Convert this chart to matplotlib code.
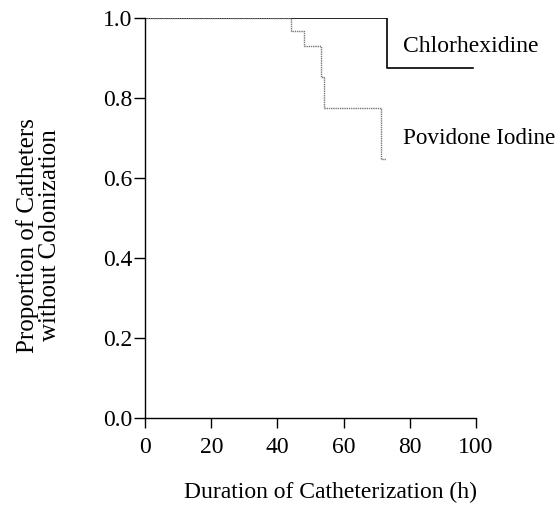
import matplotlib
matplotlib.use("Agg")
import matplotlib.pyplot as plt

# Kaplan-Meier style curves
chlor_time = [0, 73.2, 99.2]
chlor_prop = [1.0, 0.874, 0.874]
povid_time = [0, 44.1, 48.0, 53.2, 54.2, 71.2, 72.8]
povid_prop = [1.0, 0.968, 0.93, 0.852, 0.774, 0.647, 0.647]

x_ticks = [0, 20, 40, 60, 80, 100]
y_ticks = [0.0, 0.2, 0.4, 0.6, 0.8, 1.0]

plt.rcParams['font.family'] = ['Liberation Serif', 'DejaVu Serif']

fig = plt.figure(figsize=(5.58, 5.16), dpi=100)
ax = fig.add_axes([0.26, 0.19, 0.593, 0.775])

ax.step(chlor_time, chlor_prop, where='post', color='black', lw=1.2)
ax.step(povid_time, povid_prop, where='post', color='#777777', lw=1.0, linestyle=(0, (1, 0.6)))

ax.text(78, 0.93, 'Chlorhexidine', fontsize=17, va='center', ha='left')
ax.text(78, 0.70, 'Povidone Iodine', fontsize=16.7, va='center', ha='left')

ax.set_xlim(0, 100)
ax.set_ylim(0, 1.0)
ax.set_xticks(x_ticks)
ax.set_yticks(y_ticks)
ax.set_yticklabels([f"{v:.1f}" for v in y_ticks])
ax.tick_params(axis='x', direction='out', length=7, width=1, labelsize=17, pad=7)
ax.tick_params(axis='y', direction='out', length=8, width=1, labelsize=17, pad=1)

for s in ['top', 'right']:
    ax.spines[s].set_visible(False)
for s in ['left', 'bottom']:
    ax.spines[s].set_linewidth(1.0)

ax.set_xlabel('Duration of Catheterization (h)', fontsize=17)
ax.xaxis.set_label_coords(0.56, -0.16)
ax.set_ylabel('Proportion of Catheters\nwithout Colonization', fontsize=18, linespacing=1.0)
ax.yaxis.set_label_coords(-0.255, 0.457)

plt.savefig('out.png', dpi=100)
